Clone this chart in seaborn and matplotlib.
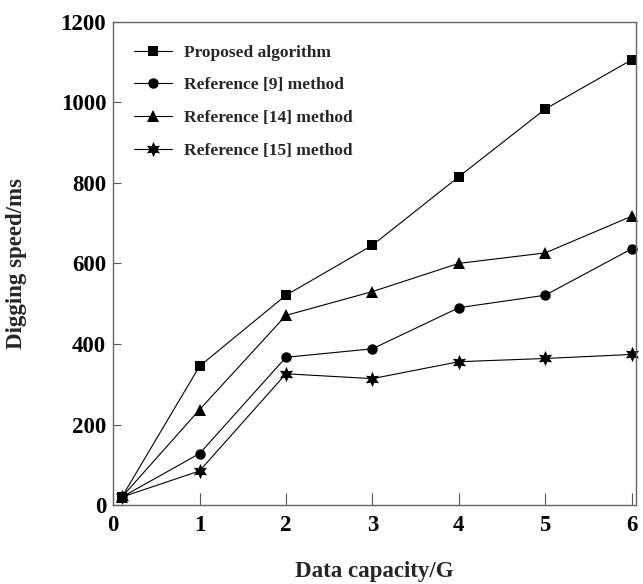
"""
Digging speed vs data capacity for four methods (line chart with markers).
"""
import numpy as np
import pandas as pd
import matplotlib
matplotlib.use("Agg")
import matplotlib.pyplot as plt
import seaborn as sns

# ---------------------------------------------------------------------------
# Data
# ---------------------------------------------------------------------------
capacity = [0.1, 1, 2, 3, 4, 5, 6]
methods = [
    "Proposed algorithm",
    "Reference [9] method",
    "Reference [14] method",
    "Reference [15] method",
]
proposed = [20, 345, 521, 645, 815, 983, 1105]
ref9 = [20, 128, 367, 388, 490, 521, 636]
ref14 = [20, 237, 471, 530, 600, 626, 717]
ref15 = [20, 85, 326, 314, 356, 364, 374]

y_ticks = [0, 200, 400, 600, 800, 1000, 1200]
x_ticks = [0, 1, 2, 3, 4, 5, 6]

# ---------------------------------------------------------------------------
# Build long-form table
# ---------------------------------------------------------------------------
series = [proposed, ref9, ref14, ref15]
df = pd.concat(
    [pd.DataFrame({"capacity": capacity, "speed": vals, "method": name})
     for name, vals in zip(methods, series)],
    ignore_index=True,
)

sns.set_theme(style="white")
plt.rcParams["font.family"] = ["Liberation Serif", "DejaVu Serif"]
plt.rcParams["font.weight"] = "bold"

fig = plt.figure(figsize=(6.43, 5.84), dpi=100)
ax = fig.add_axes([0.176, 0.135, 0.813, 0.828])

markers = {methods[0]: "s", methods[1]: "o", methods[2]: "^", methods[3]: (6, 1, 0)}
sizes = {methods[0]: 7, methods[1]: 7.5, methods[2]: 8, methods[3]: 11}

sns.lineplot(
    data=df, x="capacity", y="speed", hue="method", style="method",
    palette=["black"] * 4, markers=markers, dashes=False,
    linewidth=0.8, markersize=7, markeredgewidth=0, ax=ax, legend=True,
)
for line, name in zip(ax.lines, methods):
    line.set_markersize(sizes[name])
    line.set_clip_on(False)

ax.set_xlim(0, 6.05)
ax.set_ylim(0, 1200)
ax.set_xticks(x_ticks)
ax.set_yticks(y_ticks)
ax.tick_params(axis="both", direction="in", labelsize=16.5, colors="black",
               left=True, bottom=True, top=False, right=False)
ax.tick_params(axis="x", length=9, width=0.8, color="#555555", pad=7)
ax.tick_params(axis="y", length=6, width=0.8, color="#555555", pad=5)
for lab in ax.get_xticklabels() + ax.get_yticklabels():
    lab.set_fontweight("bold")

for sp in ax.spines.values():
    sp.set_color("#666666")
    sp.set_linewidth(1.0)

ax.set_xlabel("Data capacity/G", fontsize=16.5, fontweight="bold", labelpad=18)
ax.set_ylabel("Digging speed/ms", fontsize=16.5, fontweight="bold", labelpad=24)

handles, labels = ax.get_legend_handles_labels()
leg = ax.legend(
    handles, labels, loc="upper left", bbox_to_anchor=(0.01, 0.985),
    frameon=False, prop={"family": "Liberation Serif", "weight": "bold", "size": 12.5},
    handlelength=2.2, handletextpad=0.7, labelspacing=0.95,
)
for h, name in zip(leg.legend_handles, methods):
    h.set_markersize(sizes[name])

fig.savefig("out.png", dpi=100)
print("Saved: out.png")
